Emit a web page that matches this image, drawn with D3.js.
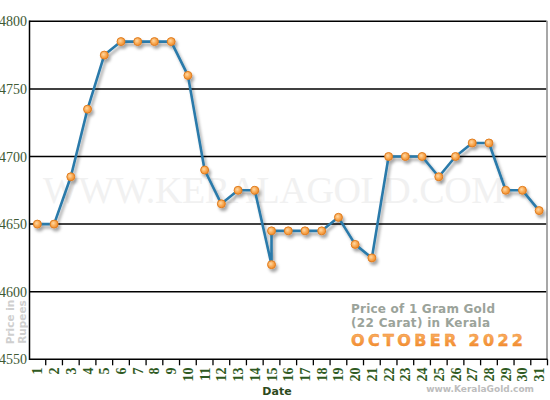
<!DOCTYPE html>
<html><head><meta charset="utf-8">
<script src="https://cdn.jsdelivr.net/npm/d3@7"></script>
<style>
html,body{margin:0;padding:0;background:#fff;}
svg{display:block;}
</style></head>
<body>
<svg id="chart" width="550" height="400"></svg>
<script>
// Data (day 15 has two recorded prices)
const days   = [1,2,3,4,5,6,7,8,9,10,11,12,13,14,15,15,16,17,18,19,20,21,22,23,24,25,26,27,28,29,30,31];
const prices = [4650,4650,4685,4735,4775,4785,4785,4785,4785,4760,4690,4665,4675,4675,4620,4645,4645,4645,4645,4655,4635,4625,4700,4700,4700,4685,4700,4710,4710,4675,4675,4660];
const dayLabels = d3.range(1,32).map(String);
const yTicks = [4550,4600,4650,4700,4750,4800];
const titleLines = ["Price of 1 Gram Gold","(22 Carat) in Kerala"];
const monthTitle = "OCTOBER 2022";

(function(){
const svg = d3.select("#chart");
const pL = 29.5, pR = 546.5, pT = 21.3, pB = 359.3;

const x = d3.scaleBand().domain(dayLabels).range([29, 547.5]).padding(0);
const y = d3.scaleLinear().domain([4550,4800]).range([pB, pT]);
const cx = d => x(String(d)) + x.bandwidth()/2;

const defs = svg.append("defs");
const f = defs.append("filter").attr("id","sh").attr("x","-20%").attr("y","-20%").attr("width","140%").attr("height","140%");
f.append("feDropShadow").attr("dx",2).attr("dy",3).attr("stdDeviation",1.6).attr("flood-color","#000").attr("flood-opacity",0.35);
const g = defs.append("radialGradient").attr("id","dot").attr("cx","40%").attr("cy","40%").attr("r","60%");
g.append("stop").attr("offset","0%").attr("stop-color","#ffd8a4");
g.append("stop").attr("offset","60%").attr("stop-color","#f9a850");
g.append("stop").attr("offset","100%").attr("stop-color","#f08e30");
const og = defs.append("linearGradient").attr("id","org").attr("x1",0).attr("y1",0).attr("x2",0).attr("y2",1);
og.append("stop").attr("offset","0%").attr("stop-color","#fbb46a");
og.append("stop").attr("offset","100%").attr("stop-color","#f08424");

// watermark
svg.append("text").attr("x",43).attr("y",203)
  .attr("font-family","Liberation Serif, serif").attr("font-size",38)
  .attr("textLength",462).attr("lengthAdjust","spacing")
  .attr("fill","#f1f1f1").text("WWW.KERALAGOLD.COM");

// gridlines
svg.append("g").selectAll("line").data(yTicks.filter(t=>t>4550)).join("line")
  .attr("x1",pL).attr("x2",pR).attr("y1",d=>y(d)).attr("y2",d=>y(d))
  .attr("stroke","#000").attr("stroke-width",1.5);

// right border
svg.append("line").attr("x1",pR+0.5).attr("x2",pR+0.5).attr("y1",pT-0.5).attr("y2",pB)
  .attr("stroke","#8a8a8a").attr("stroke-width",1.5);

// axes lines
svg.append("line").attr("x1",pL).attr("x2",pL).attr("y1",pT-0.7).attr("y2",pB+0.7).attr("stroke","#000").attr("stroke-width",1.5);
svg.append("line").attr("x1",pL).attr("x2",547.5).attr("y1",pB).attr("y2",pB).attr("stroke","#000").attr("stroke-width",1.5);

// x ticks at band boundaries
svg.append("g").selectAll("line").data(dayLabels).join("line")
  .attr("x1",d=>x(d)+x.bandwidth()).attr("x2",d=>x(d)+x.bandwidth())
  .attr("y1",pB).attr("y2",pB+6).attr("stroke","#000").attr("stroke-width",1.3);

// y labels
svg.append("g").selectAll("text").data(yTicks).join("text")
  .attr("x",27).attr("y",d=>y(d)+5).attr("text-anchor","end")
  .attr("font-family","Liberation Serif, serif").attr("font-size",14)
  .attr("fill","#3e5a34").text(d=>d);

// x labels
svg.append("g").selectAll("text").data(dayLabels).join("text")
  .attr("transform",d=>`translate(${cx(d)+0.5},367.5) rotate(-90)`)
  .attr("text-anchor","end").attr("dominant-baseline","central")
  .attr("font-family","Liberation Serif, serif").attr("font-size",14).attr("font-weight","bold")
  .attr("fill","#2f5a22").text(d=>d);

// axis titles
svg.append("text").attr("x",277).attr("y",395).attr("text-anchor","middle")
  .attr("font-family","DejaVu Sans, sans-serif").attr("font-size",11).attr("font-weight","bold")
  .attr("fill","#2c4a1c").text("Date");
const yt = svg.append("text").attr("transform","translate(0,322) rotate(-90)")
  .attr("text-anchor","middle").attr("font-family","DejaVu Sans, sans-serif")
  .attr("font-size",10.5).attr("font-weight","bold").attr("fill","#cfcfcf");
yt.append("tspan").attr("x",0).attr("y",14).text("Price in");
yt.append("tspan").attr("x",0).attr("y",26).text("Rupees");

// titles
const tl = [144, 139];
svg.append("g").selectAll("text").data(titleLines).join("text")
  .attr("x",351).attr("y",(d,i)=>313+i*13.5)
  .attr("font-family","DejaVu Sans, sans-serif").attr("font-size",12).attr("font-weight","bold")
  .attr("textLength",(d,i)=>tl[i]).attr("lengthAdjust","spacing")
  .attr("fill","#9ba39a").text(d=>d);
svg.append("text").attr("x",351).attr("y",346)
  .attr("font-family","DejaVu Sans, sans-serif").attr("font-size",16).attr("font-weight","bold")
  .attr("textLength",172).attr("lengthAdjust","spacing")
  .attr("fill","url(#org)").attr("stroke","#f08a2a").attr("stroke-width",0.4)
  .text(monthTitle);
svg.append("text").attr("x",534).attr("y",392).attr("text-anchor","end")
  .attr("font-family","DejaVu Sans, sans-serif").attr("font-size",9).attr("font-weight","bold")
  .attr("fill","#bdbdbd").text("www.KeralaGold.com");

// series
const pts = days.map((d,i)=>({d, v: prices[i]}));
const line = d3.line().x(p=>cx(p.d)).y(p=>y(p.v));
const sg = svg.append("g").attr("filter","url(#sh)");
sg.append("path").datum(pts).attr("d",line).attr("fill","none")
  .attr("stroke","#2a7aaa").attr("stroke-width",2.6).attr("stroke-linejoin","round");
sg.selectAll("circle").data(pts).join("circle")
  .attr("cx",p=>cx(p.d)).attr("cy",p=>y(p.v)).attr("r",4)
  .attr("fill","url(#dot)").attr("stroke","#e07e22").attr("stroke-width",1);
})();
</script>
</body></html>
